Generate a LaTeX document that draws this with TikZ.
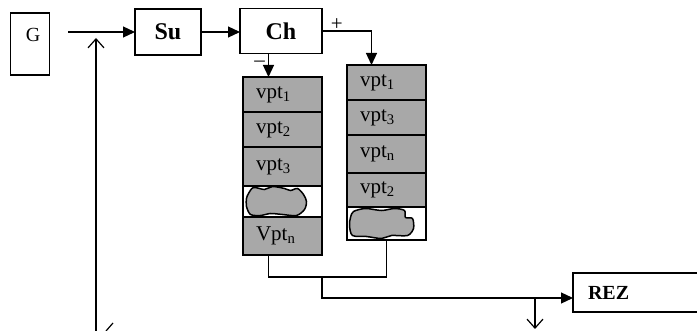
\documentclass[tikz,border=0pt]{standalone}
\usepackage{fontspec}
\setmainfont{Liberation Serif}
\usetikzlibrary{arrows.meta,positioning}
\definecolor{cellgray}{RGB}{168,168,168}
\begin{document}
\begin{tikzpicture}[x=1pt,y=-1pt,line width=1.2pt,
        box/.style={rectangle,draw,line width=1.3pt,align=center,inner sep=0pt,outer sep=0pt},
        cell/.style={rectangle,draw,line width=1.2pt,fill=cellgray,minimum width=79pt,
          text width=53pt,inner xsep=13pt,inner ysep=0pt,outer sep=0pt,align=left,
          font=\fontsize{21}{21}\selectfont},
        blank/.style={rectangle,draw,line width=1.2pt,fill=white,minimum width=79pt,
          inner sep=0pt,outer sep=0pt},
        blob/.style={draw,line width=1.5pt,fill=cellgray},
        arrow/.style={-{Triangle[length=12pt,width=11pt]},line width=1.2pt},
        open/.style={-{Straight Barb[length=9pt,width=16pt]},line width=1.2pt}]
        \useasboundingbox (0,0) rectangle (697,331);
        \node[box,minimum width=39pt,minimum height=62pt,text depth=18pt,
          font=\fontsize{20}{20}\selectfont] (G) at (30,44) {\hspace*{6pt}G};
        \node[box,minimum width=66pt,minimum height=46pt,
          font=\bfseries\fontsize{24}{24}\selectfont] (Su) at (168,32) {Su};
        \node[box,minimum width=82pt,minimum height=45pt,
          font=\bfseries\fontsize{24}{24}\selectfont] (Ch) at (281,31) {Ch};
        \coordinate (gin) at (68,32);
        \coordinate (fbstart) at (96,331);
        \coordinate (fbend) at (96,38);
        % left stack
        \node[cell,minimum height=35pt] (l1) at (282.5,94.5) {vpt\textsubscript{1}};
        \node[cell,minimum height=35pt,below=0pt of l1] (l2) {vpt\textsubscript{2}};
        \node[cell,minimum height=39pt,below=0pt of l2] (l3) {vpt\textsubscript{3}};
        \node[blank,minimum height=31pt,below=0pt of l3] (lb) {};
        \node[cell,minimum height=38pt,below=0pt of lb] (ln) {Vpt\textsubscript{n}};
        % right stack
        \node[cell,minimum height=35pt] (r1) at (386.5,82.5) {vpt\textsubscript{1}};
        \node[cell,minimum height=35pt,below=0pt of r1] (r3) {vpt\textsubscript{3}};
        \node[cell,minimum height=38pt,below=0pt of r3] (rn) {vpt\textsubscript{n}};
        \node[cell,minimum height=34pt,below=0pt of rn] (r2) {vpt\textsubscript{2}};
        \node[blank,minimum height=33pt,below=0pt of r2] (rb) {};
        \begin{scope}[shift={(lb.center)}]
          \draw[blob] plot[smooth cycle,tension=0.5] coordinates {(-34,-8) (-29,-14) (-18,-12)
            (-10,-15) (2,-13) (8,-11) (15,-13) (21,-7) (24,0) (22,8) (14,14) (0,13)
            (-12,12) (-22,14) (-32,13) (-36,5) (-36,-3)};
        \end{scope}
        \begin{scope}[shift={(rb.center)}]
          \draw[blob] plot[smooth cycle,tension=0.5] coordinates {(-33,-12) (-21,-15) (-5,-13)
            (8,-15) (18,-13) (19,-6) (26,-5) (27,5) (21,12) (5,12) (-5,15) (-20,13)
            (-34,12) (-37,2) (-36,-6)};
        \end{scope}
        \node[box,anchor=west,minimum width=128pt,minimum height=39pt,text width=98pt,
          inner xsep=15pt,align=left,font=\bfseries\fontsize{20}{20}\selectfont]
          (REZ) at (573,292.5) {REZ};
        \coordinate (join) at (322,277);
        \coordinate (tap) at (535,298);
        \coordinate (tapend) at (535,329);
        \draw[arrow] (gin) -- (Su);
        \draw[arrow] (Su) -- (Su -| Ch.west);
        \draw[arrow] (Ch.east) -| ([xshift=-15pt]r1.north)
          node[pos=0.15,above,inner sep=0pt,font=\fontsize{21}{21}\selectfont] {+};
        \draw[arrow] ([xshift=-14pt]l1.north |- Ch.south) -- ([xshift=-14pt]l1.north)
          node[pos=0.45,left,inner sep=3pt,font=\fontsize{21}{21}\selectfont] {–};
        \draw[open] (fbstart) -- (fbend);
        \draw ([xshift=-14pt]ln.south) |- (join) -| (rb.south);
        \draw[arrow] (join) |- (REZ.west |- tap);
        \draw[open] (tap) -- (tapend);
        \draw (106,331) -- (113,323);
\end{tikzpicture}
\end{document}
